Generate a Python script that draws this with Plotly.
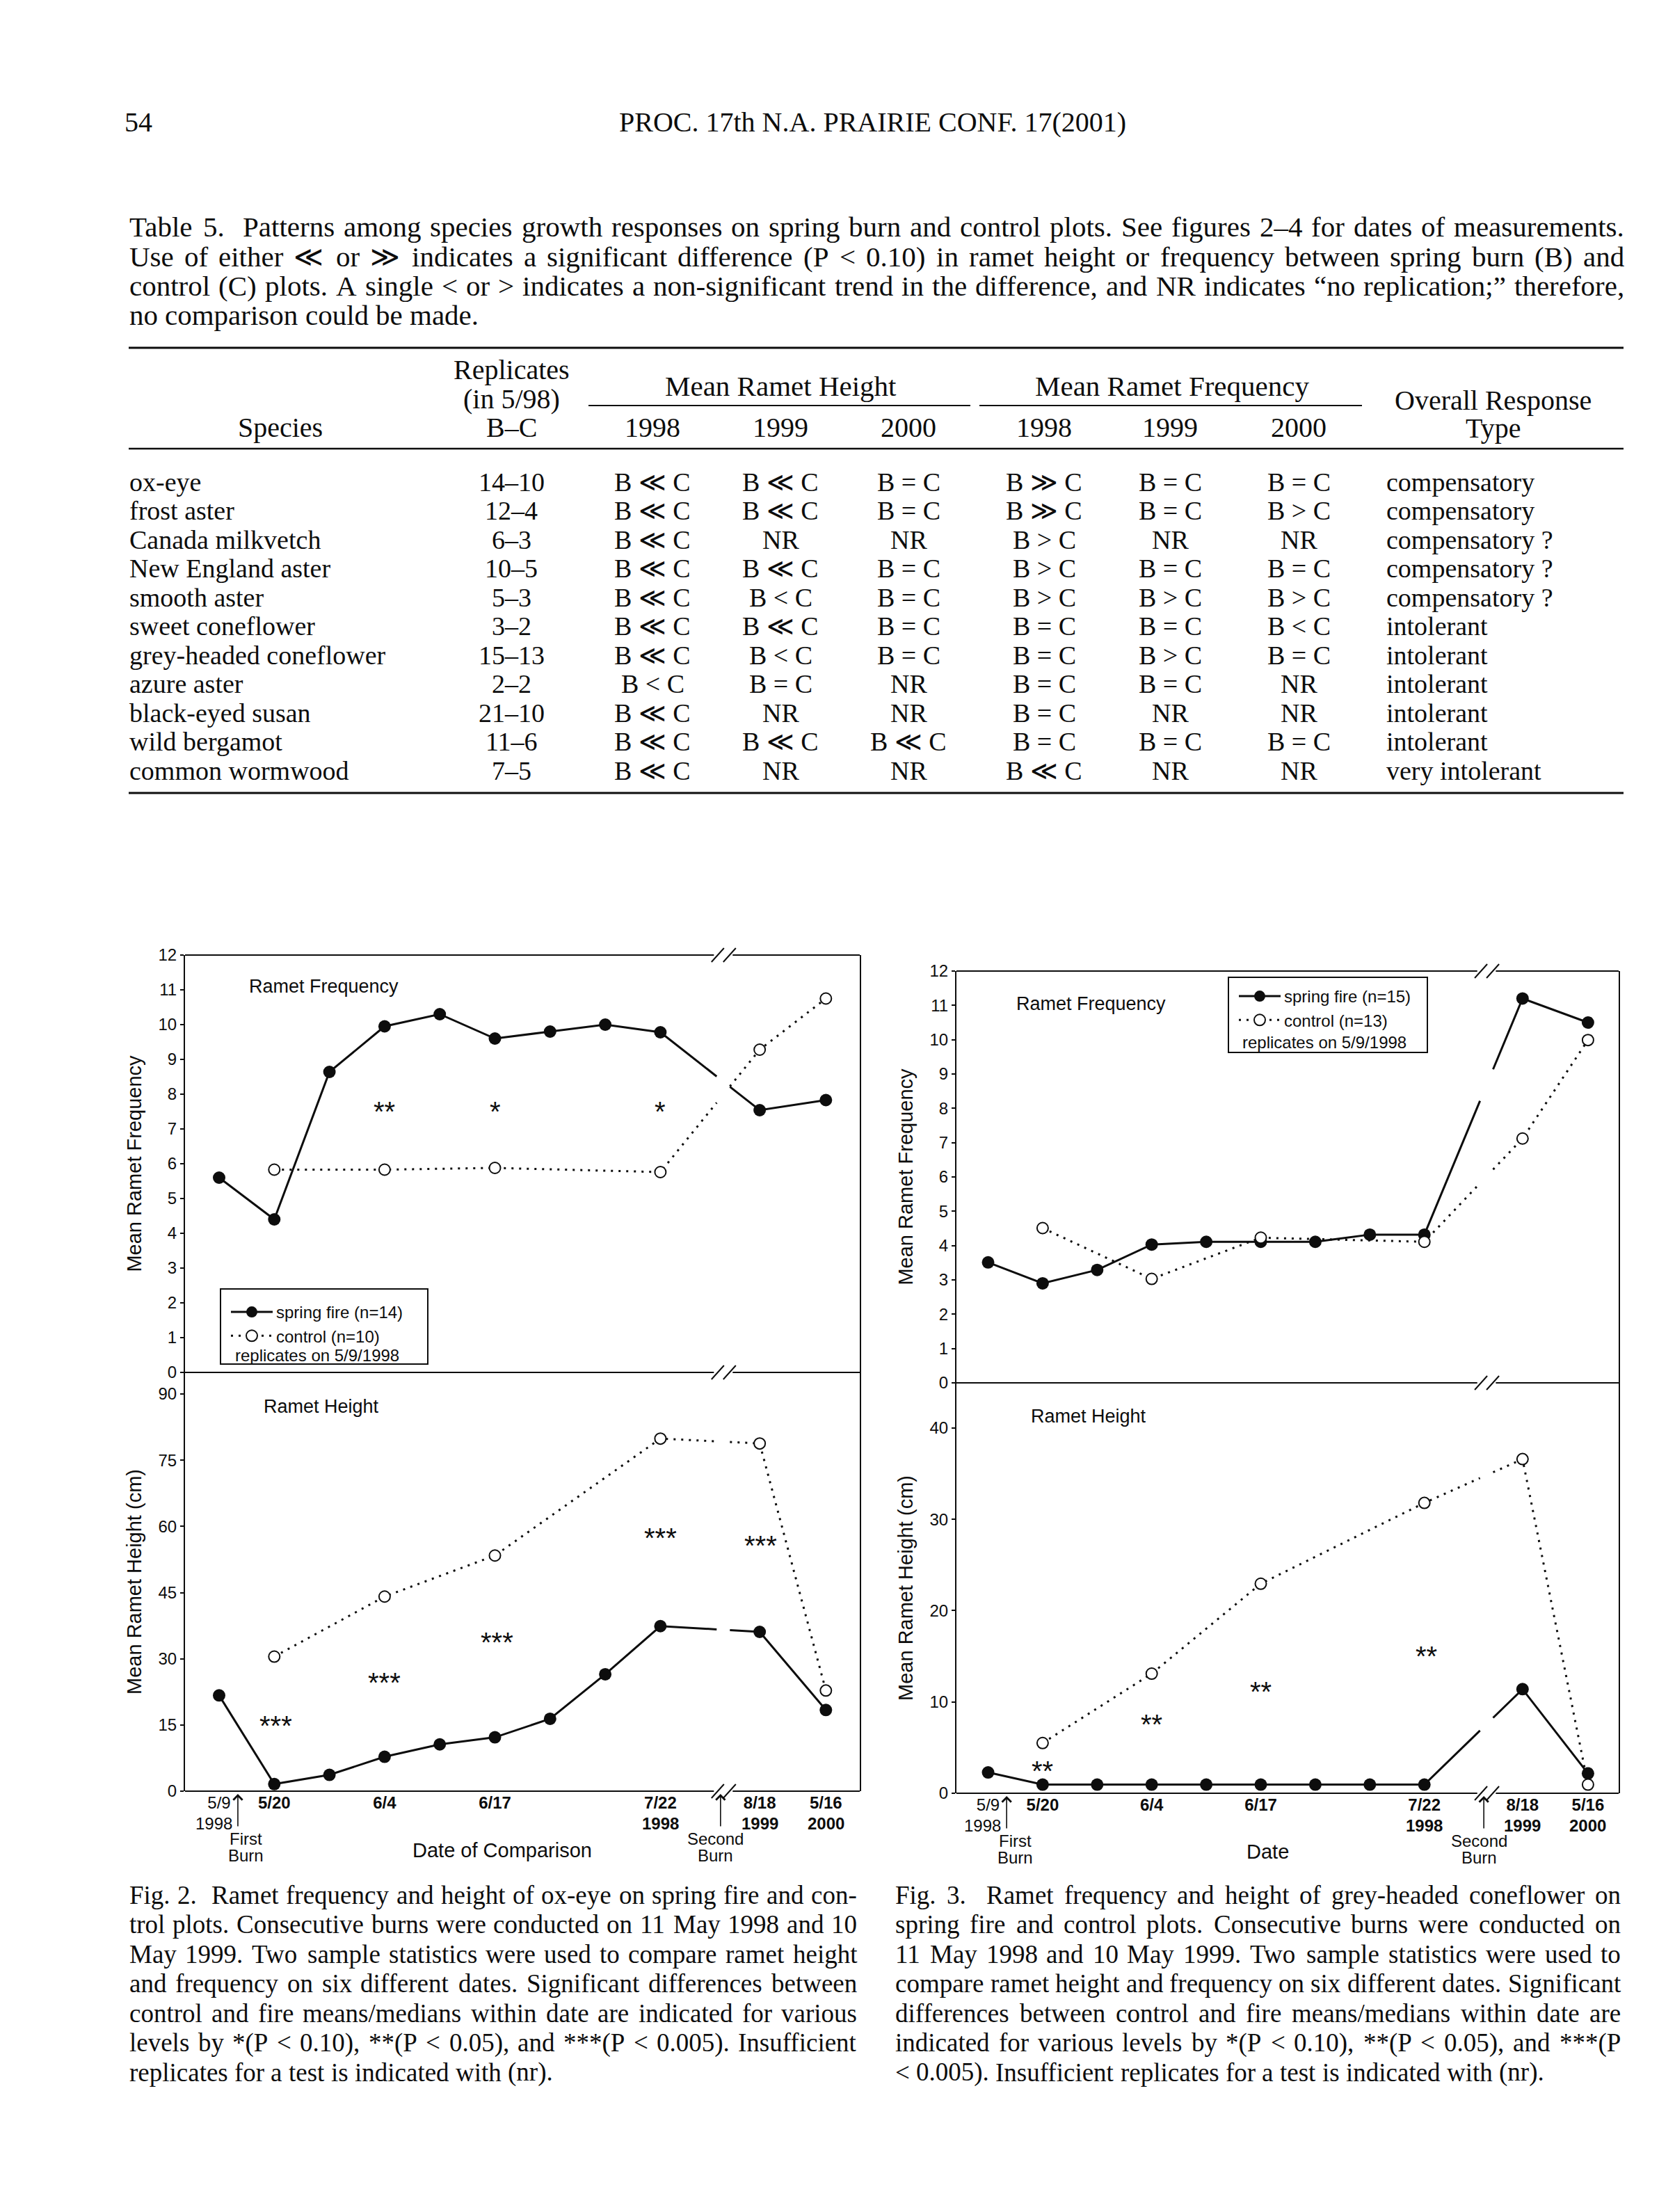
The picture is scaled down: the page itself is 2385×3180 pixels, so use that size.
import plotly.graph_objects as go

W, H = 2385, 3180
SANS = "Liberation Sans, Arial, Helvetica, sans-serif"
SERIF = "Liberation Serif, Times New Roman, DejaVu Serif, serif"
INK = "#0d0d0d"

# ------------------------------------------------------------------ Table 5 data
table_caption = [
    "Table 5.  Patterns among species growth responses on spring burn and control plots. See figures 2–4 for dates of measurements.",
    "Use of either ≪ or ≫ indicates a significant difference (P < 0.10) in ramet height or frequency between spring burn (B) and",
    "control (C) plots. A single < or > indicates a non-significant trend in the difference, and NR indicates “no replication;” therefore,",
    "no comparison could be made.",
]
species = ["ox-eye", "frost aster", "Canada milkvetch", "New England aster", "smooth aster",
           "sweet coneflower", "grey-headed coneflower", "azure aster", "black-eyed susan",
           "wild bergamot", "common wormwood"]
replicates = ["14–10", "12–4", "6–3", "10–5", "5–3", "3–2", "15–13", "2–2", "21–10", "11–6", "7–5"]
height_1998 = ["B ≪ C", "B ≪ C", "B ≪ C", "B ≪ C", "B ≪ C", "B ≪ C", "B ≪ C", "B < C", "B ≪ C", "B ≪ C", "B ≪ C"]
height_1999 = ["B ≪ C", "B ≪ C", "NR", "B ≪ C", "B < C", "B ≪ C", "B < C", "B = C", "NR", "B ≪ C", "NR"]
height_2000 = ["B = C", "B = C", "NR", "B = C", "B = C", "B = C", "B = C", "NR", "NR", "B ≪ C", "NR"]
freq_1998 = ["B ≫ C", "B ≫ C", "B > C", "B > C", "B > C", "B = C", "B = C", "B = C", "B = C", "B = C", "B ≪ C"]
freq_1999 = ["B = C", "B = C", "NR", "B = C", "B > C", "B = C", "B > C", "B = C", "NR", "B = C", "NR"]
freq_2000 = ["B = C", "B > C", "NR", "B = C", "B > C", "B < C", "B = C", "NR", "NR", "B = C", "NR"]
response = ["compensatory", "compensatory", "compensatory ?", "compensatory ?", "compensatory ?",
            "intolerant", "intolerant", "intolerant", "intolerant", "intolerant", "very intolerant"]
year_labels = ["1998", "1999", "2000"]

# ------------------------------------------------------------------ figure data
x_fire = [0, 1, 2, 3, 4, 5, 6, 7, 8, 9.8, 11.0]     # sampling occasions
x_ctrl = [1, 3, 5, 8, 9.8, 11.0]
tick_x = [0, 1, 3, 5, 8, 9.8, 11.0]
tick_dates = ["5/9", "5/20", "6/4", "6/17", "7/22", "8/18", "5/16"]
tick_years = ["1998", "", "", "", "1998", "1999", "2000"]
burn_x = [0.34, 9.09]
burn_words = [["First", "Burn"], ["Second", "Burn"]]

# Fig. 2 ox-eye
ox_freq_fire = [5.6, 4.4, 8.64, 9.95, 10.3, 9.6, 9.8, 10.0, 9.78, 7.54, 7.83]
ox_freq_ctrl = [5.83, 5.83, 5.88, 5.76, 9.28, 10.75]
ox_ht_fire = [21.7, 1.6, 3.7, 7.8, 10.6, 12.2, 16.4, 26.5, 37.4, 36.1, 18.4]
ox_ht_ctrl = [30.5, 44.1, 53.4, 79.9, 78.8, 22.8]
ox_freq_sig = ["**", "*", "*"]
ox_ht_sig = ["***", "***", "***", "***", "***"]

# Fig. 3 grey-headed coneflower
gh_freq_fire = [3.51, 2.9, 3.29, 4.03, 4.11, 4.11, 4.11, 4.32, 4.32, 11.2, 10.5]
gh_freq_ctrl = [4.51, 3.03, 4.23, 4.11, 7.12, 9.99]
gh_ht_fire = [2.28, 0.95, 0.95, 0.95, 0.95, 0.95, 0.95, 0.95, 0.95, 11.4, 2.17]
gh_ht_ctrl = [5.5, 13.1, 22.95, 31.8, 36.6, 0.95]
gh_ht_sig = ["**", "**", "**", "**"]

fig2_caption = [
    "Fig. 2.  Ramet frequency and height of ox-eye on spring fire and con-",
    "trol plots. Consecutive burns were conducted on 11 May 1998 and 10",
    "May 1999. Two sample statistics were used to compare ramet height",
    "and frequency on six different dates. Significant differences between",
    "control and fire means/medians within date are indicated for various",
    "levels by *(P < 0.10), **(P < 0.05), and ***(P < 0.005). Insufficient",
    "replicates for a test is indicated with (nr).",
]
fig3_caption = [
    "Fig. 3.  Ramet frequency and height of grey-headed coneflower on",
    "spring fire and control plots. Consecutive burns were conducted on",
    "11 May 1998 and 10 May 1999. Two sample statistics were used to",
    "compare ramet height and frequency on six different dates. Significant",
    "differences between control and fire means/medians within date are",
    "indicated for various levels by *(P < 0.10), **(P < 0.05), and ***(P",
    "< 0.005). Insufficient replicates for a test is indicated with (nr).",
]

# ------------------------------------------------------------------ helpers
def fx(p):
    return p / W


def fy(p):
    return 1 - p / H


def esc(s):
    return s.replace("<", "&lt;").replace(">", "&gt;")


# Times-compatible advance widths (1/1000 em) used to justify the serif text lines
_TW = {' ': 250, '!': 333, '"': 408, '#': 500, '$': 500, '%': 833, '&': 778, "'": 180, '(': 333, ')': 333,
       '*': 500, '+': 564, ',': 250, '-': 333, '.': 250, '/': 278, ':': 278, ';': 278, '<': 564, '=': 564,
       '>': 564, '?': 444, '@': 921, '[': 333, ']': 333, '–': 500, '—': 1000, '“': 444, '”': 444,
       '≪': 1100, '≫': 1100}
_TW.update({d: 500 for d in "0123456789"})
_TW.update(dict(zip("ABCDEFGHIJKLMNOPQRSTUVWXYZ",
                    [722, 667, 667, 722, 611, 556, 722, 722, 333, 389, 722, 611, 889, 722, 722, 556, 722, 667,
                     556, 611, 722, 722, 944, 722, 722, 611])))
_TW.update(dict(zip("abcdefghijklmnopqrstuvwxyz",
                    [444, 500, 444, 500, 444, 333, 500, 500, 278, 278, 500, 278, 778, 500, 500, 500, 500, 333,
                     389, 278, 500, 500, 722, 500, 500, 444])))


def tw(s, size):
    return sum(_TW.get(c, 500) for c in s) * size / 1000.0


def with_break(xs, ys, brk, gap):
    ox, oy = [], []
    for i, (a, b) in enumerate(zip(xs, ys)):
        ox.append(a)
        oy.append(b)
        if i + 1 < len(xs) and a < brk < xs[i + 1]:
            a2, b2 = xs[i + 1], ys[i + 1]
            for xb in (brk - gap, None, brk + gap):
                if xb is None:
                    ox.append(None)
                    oy.append(None)
                else:
                    ox.append(xb)
                    oy.append(b + (b2 - b) * (xb - a) / (a2 - a))
    return ox, oy


fig = go.Figure()
shapes = []
annots = []


def text(xp, yp, s, size, family=SERIF, anchor="left", color=INK, **kw):
    annots.append(dict(x=fx(xp), y=fy(yp), xref="paper", yref="paper", text=s, showarrow=False,
                       xanchor=anchor, yanchor="middle", borderpad=0,
                       font=dict(size=size, family=family, color=color), **kw))


def para_line(line, left, right, yp, size, justify):
    words, gapw, pending = [], [], 0
    for tok in line.split(" "):
        if tok == "":
            pending += 1
            continue
        if words:
            gapw.append(1 + pending)
        words.append(tok)
        pending = 0
    natural = sum(tw(w, size) for w in words)
    unit = 0.25 * size
    if justify and gapw:
        unit = max((right - left - natural) / sum(gapw), 0.16 * size)
    xcur = left
    for i, w in enumerate(words):
        text(xcur, yp, esc(w), size)
        xcur += tw(w, size)
        if i < len(gapw):
            xcur += unit * gapw[i]


def hline(x0p, x1p, yp, w):
    shapes.append(dict(type="line", xref="paper", yref="paper", x0=fx(x0p), x1=fx(x1p), y0=fy(yp), y1=fy(yp),
                       line=dict(color=INK, width=w)))


# ------------------------------------------------------------------ page header
text(178, 176, "54", 40)
text(1254, 176, "PROC. 17th N.A. PRAIRIE CONF. 17(2001)", 40, anchor="center")

# ------------------------------------------------------------------ table
for i, line in enumerate(table_caption):
    para_line(line, 185, 2334, [326, 369, 411, 453][i], 41, justify=(i < len(table_caption) - 1))

hline(185, 2334, 500, 3)
hline(185, 2334, 645, 2.5)
hline(185, 2334, 1140, 3)
hline(846, 1395, 583, 2)
hline(1408, 1958, 583, 2)

text(735, 531, "Replicates", 40, anchor="center")
text(735, 573, "(in 5/98)", 40, anchor="center")
text(735, 614, "B–C", 40, anchor="center")
text(403, 614, "Species", 40, anchor="center")
text(1122, 555, "Mean Ramet Height", 41, anchor="center")
text(1685, 555, "Mean Ramet Frequency", 41, anchor="center")
text(2146, 576, "Overall Response", 40, anchor="center")
text(2146, 616, "Type", 40, anchor="center")
col_x = [938, 1122, 1306, 1501, 1682, 1867]
for j, cx in enumerate(col_x):
    text(cx, 614, year_labels[j % 3], 40, anchor="center")

cols = [height_1998, height_1999, height_2000, freq_1998, freq_1999, freq_2000]
for i in range(len(species)):
    yrow = 693 + 41.45 * i
    text(185, yrow, species[i], 38)
    text(735, yrow, replicates[i], 38, anchor="center")
    for j, cx in enumerate(col_x):
        text(cx, yrow, esc(cols[j][i]), 38, anchor="center")
    text(1992, yrow, response[i], 38)

# ------------------------------------------------------------------ chart panels
panels = [
    dict(xa="x", xb="x2", ya="y", yb="y2", xl=266, xr=1236, x0=315, unit=79.3,
         top=1373, mid=1973, bot=2575, hmax=94.9, hticks=[0, 15, 30, 45, 60, 75, 90],
         freq_fire=ox_freq_fire, freq_ctrl=ox_freq_ctrl, ht_fire=ox_ht_fire, ht_ctrl=ox_ht_ctrl,
         freq_sig=ox_freq_sig, freq_sig_x=[3, 5, 8], freq_sig_y=[7.7, 7.7, 7.7],
         ht_sig=ox_ht_sig, ht_sig_x=[1.03, 3.0, 5.04, 8.0, 9.82], ht_sig_y=[16.4, 26.2, 35.3, 58.9, 57.2],
         legend="legend", n_fire="spring fire (n=14)", n_ctrl="control (n=10)",
         box=(317, 615, 1853, 1961), rep_xy=(337, 1948), leg_xy=(327, 1864),
         freq_lbl=(357, 1418), ht_lbl=(378, 2022), xtitle="Date of Comparison", xtitle_xy=(722, 2660),
         ytitle_f="Mean Ramet Frequency", ytitle_h="Mean Ramet Height (cm)"),
    dict(xa="x3", xb="x4", ya="y3", yb="y4", xl=1375, xr=2327, x0=1420.5, unit=78.4,
         top=1396, mid=1988, bot=2578, hmax=44.95, hticks=[0, 10, 20, 30, 40],
         freq_fire=gh_freq_fire, freq_ctrl=gh_freq_ctrl, ht_fire=gh_ht_fire, ht_ctrl=gh_ht_ctrl,
         freq_sig=[], freq_sig_x=[], freq_sig_y=[],
         ht_sig=gh_ht_sig, ht_sig_x=[1.0, 3.0, 5.0, 8.03], ht_sig_y=[3.2, 8.3, 11.9, 15.8],
         legend="legend2", n_fire="spring fire (n=15)", n_ctrl="control (n=13)",
         box=(1766, 2052, 1405, 1513), rep_xy=(1785, 1499), leg_xy=(1776, 1410),
         freq_lbl=(1460, 1443), ht_lbl=(1481, 2036), xtitle="Date", xtitle_xy=(1822, 2662),
         ytitle_f="Mean Ramet Frequency", ytitle_h="Mean Ramet Height (cm)"),
]

BRK = 9.14
LGAP = 0.12
AGAP = 0.17
FIRE_LINE = dict(color=INK, width=3)
CTRL_LINE = dict(color=INK, width=3, dash="3px,8px")
FIRE_MK = dict(symbol="circle", size=18, color=INK)
CTRL_MK = dict(symbol="circle", size=16, color="white", line=dict(color=INK, width=2))
STAR_FONT = dict(size=40, family=SANS, color=INK)

layout_axes = {}
for k, p in enumerate(panels):
    xlo = (p["xl"] - p["x0"]) / p["unit"]
    xhi = (p["xr"] - p["x0"]) / p["unit"]
    xdom = [fx(p["xl"]), fx(p["xr"])]
    ax_common = dict(domain=xdom, range=[xlo, xhi], showgrid=False, zeroline=False, showline=False,
                     ticks="", automargin=False)
    xa_name = "xaxis" if p["xa"] == "x" else "xaxis" + p["xa"][1:]
    xb_name = "xaxis" + p["xb"][1:]
    ya_name = "yaxis" if p["ya"] == "y" else "yaxis" + p["ya"][1:]
    yb_name = "yaxis" + p["yb"][1:]
    layout_axes[xa_name] = dict(ax_common, anchor=p["ya"], showticklabels=False)
    layout_axes[xb_name] = dict(ax_common, anchor=p["yb"], tickvals=tick_x,
                                ticktext=[d if i == 0 else "<b>%s</b>" % d for i, d in enumerate(tick_dates)],
                                tickfont=dict(size=24, family=SANS, color=INK))
    yax = dict(showgrid=False, zeroline=False, showline=True, linecolor=INK, linewidth=2, mirror=True,
               ticks="outside", ticklen=5, tickwidth=2, tickcolor=INK, automargin=False,
               tickfont=dict(size=24, family=SANS, color=INK))
    layout_axes[ya_name] = dict(yax, domain=[fy(p["mid"]), fy(p["top"])], range=[0, 12], anchor=p["xa"],
                                tickvals=list(range(0, 13)),
                                title=dict(text=p["ytitle_f"], font=dict(size=29, family=SANS, color=INK), standoff=15))
    layout_axes[yb_name] = dict(yax, domain=[fy(p["bot"]), fy(p["mid"])], range=[0, p["hmax"]], anchor=p["xb"],
                                tickvals=p["hticks"],
                                title=dict(text=p["ytitle_h"], font=dict(size=29, family=SANS, color=INK), standoff=15))

    # series
    for xs, ys, xa, ya, ln, mk in [
        (x_fire, p["freq_fire"], p["xa"], p["ya"], FIRE_LINE, FIRE_MK),
        (x_ctrl, p["freq_ctrl"], p["xa"], p["ya"], CTRL_LINE, CTRL_MK),
        (x_fire, p["ht_fire"], p["xb"], p["yb"], FIRE_LINE, FIRE_MK),
        (x_ctrl, p["ht_ctrl"], p["xb"], p["yb"], CTRL_LINE, CTRL_MK),
    ]:
        lx, ly = with_break(xs, ys, BRK, LGAP)
        fig.add_trace(go.Scatter(x=lx, y=ly, mode="lines", line=ln, xaxis=xa, yaxis=ya,
                                 showlegend=False, hoverinfo="skip", connectgaps=False))
        fig.add_trace(go.Scatter(x=xs, y=ys, mode="markers", marker=mk, xaxis=xa, yaxis=ya,
                                 showlegend=False, hoverinfo="skip", cliponaxis=False))

    # significance stars (asterisk glyph sits high in the line box -> shift down)
    for sx, sy, st in zip(p["freq_sig_x"], p["freq_sig_y"], p["freq_sig"]):
        annots.append(dict(x=sx, y=sy, xref=p["xa"], yref=p["ya"], text=st, showarrow=False,
                           yshift=-10, font=STAR_FONT))
    for sx, sy, st in zip(p["ht_sig_x"], p["ht_sig_y"], p["ht_sig"]):
        annots.append(dict(x=sx, y=sy, xref=p["xb"], yref=p["yb"], text=st, showarrow=False,
                           yshift=-10, font=STAR_FONT))

    # legend entries
    fig.add_trace(go.Scatter(x=[None], y=[None], mode="lines+markers", name=p["n_fire"], line=FIRE_LINE,
                             marker=FIRE_MK, xaxis=p["xa"], yaxis=p["ya"], legend=p["legend"], hoverinfo="skip"))
    fig.add_trace(go.Scatter(x=[None], y=[None], mode="lines+markers", name=p["n_ctrl"], line=CTRL_LINE,
                             marker=CTRL_MK, xaxis=p["xa"], yaxis=p["ya"], legend=p["legend"], hoverinfo="skip"))
    layout_axes[p["legend"]] = dict(x=fx(p["leg_xy"][0]), y=fy(p["leg_xy"][1]), xanchor="left", yanchor="top",
                                    bgcolor="rgba(0,0,0,0)", borderwidth=0, itemwidth=60, tracegroupgap=0,
                                    font=dict(size=24, family=SANS, color=INK), itemclick=False)
    bx0, bx1, by0, by1 = p["box"]
    shapes.append(dict(type="rect", xref="paper", yref="paper", x0=fx(bx0), x1=fx(bx1), y0=fy(by1), y1=fy(by0),
                       line=dict(color=INK, width=2), fillcolor="rgba(0,0,0,0)"))
    text(p["rep_xy"][0], p["rep_xy"][1], "replicates on 5/9/1998", 24, family=SANS)

    # horizontal frame lines with axis break
    for ypx in (p["top"], p["mid"], p["bot"]):
        yv = fy(ypx)
        for a0, a1 in ((xlo, BRK - AGAP), (BRK + AGAP, xhi)):
            shapes.append(dict(type="line", xref=p["xa"], yref="paper", x0=a0, x1=a1, y0=yv, y1=yv,
                               line=dict(color=INK, width=2)))
        for off in (-8, 9):
            shapes.append(dict(type="line", xref=p["xa"], yref="paper", xsizemode="pixel", ysizemode="pixel",
                               xanchor=BRK, yanchor=yv, x0=off - 9, x1=off + 9, y0=-10, y1=10,
                               line=dict(color=INK, width=2)))

    # panel labels
    text(p["freq_lbl"][0], p["freq_lbl"][1], "Ramet Frequency", 27, family=SANS)
    text(p["ht_lbl"][0], p["ht_lbl"][1], "Ramet Height", 27, family=SANS)

    # second line of date labels (years)
    for i, (tx, yr) in enumerate(zip(tick_x, tick_years)):
        if yr:
            annots.append(dict(x=tx, y=fy(p["bot"] + 46), xref=p["xb"], yref="paper",
                               text=yr if i == 0 else "<b>%s</b>" % yr, showarrow=False, xanchor="center",
                               yanchor="middle", xshift=-8 if i == 0 else 0,
                               font=dict(size=24, family=SANS, color=INK)))

    # burn arrows
    for bx, words, shift in zip(burn_x, burn_words, [12, -7]):
        annots.append(dict(x=bx, y=fy(p["bot"] + 4), xref=p["xb"], yref="paper", text="", showarrow=True,
                           ax=0, ay=48, arrowhead=4, arrowsize=1.6, arrowwidth=1.6, arrowcolor=INK))
        for j, wd in enumerate(words):
            annots.append(dict(x=bx, y=fy(p["bot"] + 68 + 24 * j), xref=p["xb"], yref="paper", text=wd,
                               showarrow=False, xanchor="center", yanchor="middle", xshift=shift,
                               font=dict(size=24, family=SANS, color=INK)))

    text(p["xtitle_xy"][0], p["xtitle_xy"][1], p["xtitle"], 29, family=SANS, anchor="center")

# ------------------------------------------------------------------ figure captions
for i, line in enumerate(fig2_caption):
    para_line(line, 185, 1231, 2724 + 42.5 * i, 37, justify=(i < len(fig2_caption) - 1))
for i, line in enumerate(fig3_caption):
    para_line(line, 1286, 2329, 2724 + 42.5 * i, 37, justify=(i < len(fig3_caption) - 1))

fig.update_layout(
    width=W, height=H, margin=dict(l=0, r=0, t=0, b=0),
    paper_bgcolor="white", plot_bgcolor="rgba(0,0,0,0)",
    shapes=shapes, annotations=annots, showlegend=True,
    font=dict(family=SANS, color=INK),
    **layout_axes,
)

fig.write_html("out.html", config={"displayModeBar": False},
               post_script="document.body.style.margin='0';")
